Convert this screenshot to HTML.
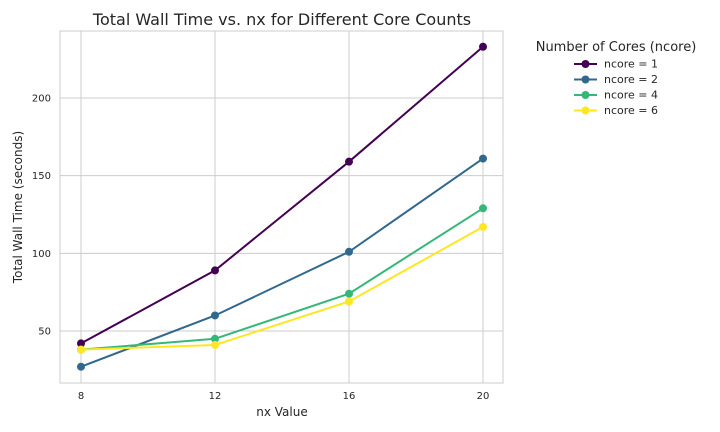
<!DOCTYPE html>
<html><head><meta charset="utf-8"><style>
body{margin:0;background:#fff;font-family:"DejaVu Sans","Liberation Sans",sans-serif;}
svg{display:block}
</style></head><body>
<svg id="chart" width="720" height="432" font-family="DejaVu Sans, Liberation Sans, sans-serif"></svg>
<script>
const categories=[8,12,16,20];
const seriesNames=["ncore = 1","ncore = 2","ncore = 4","ncore = 6"];
const s1=[42,89,159,233];
const s2=[27,60,101,161];
const s4=[38,45,74,129];
const s6=[38,41,69,117];
const yTicks=[50,100,150,200];
const colors=["#440154","#31688e","#35b779","#fde725"];
const allSeries=[s1,s2,s4,s6];
const NS="http://www.w3.org/2000/svg";
const svg=document.getElementById('chart');
const L=60,R=503,T=31,B=383;
const xs=v=>81+(v-8)*(483-81)/12;
const ys=v=>331-(v-50)*(331-98)/150;
function mk(tag,attrs,parent){const e=document.createElementNS(NS,tag);for(const k in attrs)e.setAttribute(k,attrs[k]);(parent||svg).appendChild(e);return e;}
const frame=mk('rect',{x:L,y:T,width:R-L,height:B-T,fill:'#fff',stroke:'#cccccc','stroke-width':1});


categories.forEach(c=>{
 const g=mk('line',{x1:xs(c),x2:xs(c),y1:T,y2:B,stroke:'#cccccc'});
 
 
 const t=mk('text',{x:xs(c),y:399,'font-size':10,fill:'#262626','text-anchor':'middle'});t.textContent=c;
 
 
});
yTicks.forEach(v=>{
 const g=mk('line',{x1:L,x2:R,y1:ys(v),y2:ys(v),stroke:'#cccccc'});
 
 
 const t=mk('text',{x:51,y:ys(v)+3.5,'font-size':10,fill:'#262626','text-anchor':'end'});t.textContent=v;
 
 
});
allSeries.forEach((s,i)=>{
 const g=mk('g',{});
 
 
 mk('polyline',{points:s.map((v,j)=>xs(categories[j])+','+ys(v)).join(' '),fill:'none',stroke:colors[i],'stroke-width':2},g);
 s.forEach((v,j)=>{const c=mk('circle',{cx:xs(categories[j]),cy:ys(v),r:4,fill:colors[i]},g);
  
  });
});
function txt(x,y,s,str,name,extra){const t=mk('text',Object.assign({x:x,y:y,'font-size':s,fill:'#262626'},extra||{}));t.textContent=str;return t;}
txt(282,25,16,'Total Wall Time vs. nx for Different Core Counts','chart-title',{'text-anchor':'middle'});
txt(282,416,12,'nx Value','x-axis-title',{'text-anchor':'middle'});
txt(22,207,12,'Total Wall Time (seconds)','y-axis-title',{'text-anchor':'middle',transform:'rotate(-90 22 207)'});
const lg=mk('g',{});


const lt=mk('text',{x:616,y:51,'font-size':13,fill:'#262626','text-anchor':'middle'},lg);lt.textContent='Number of Cores (ncore)';
seriesNames.forEach((n,i)=>{
 const y=64+i*15.5;
 const e=mk('g',{},lg);
 
 
 mk('line',{x1:574,x2:597,y1:y,y2:y,stroke:colors[i],'stroke-width':2},e);
 mk('circle',{cx:585.5,cy:y,r:4,fill:colors[i]},e);
 const t=mk('text',{x:604,y:y+3.5,'font-size':11,fill:'#262626'},e);t.textContent=n;
});
</script>
</body></html>
